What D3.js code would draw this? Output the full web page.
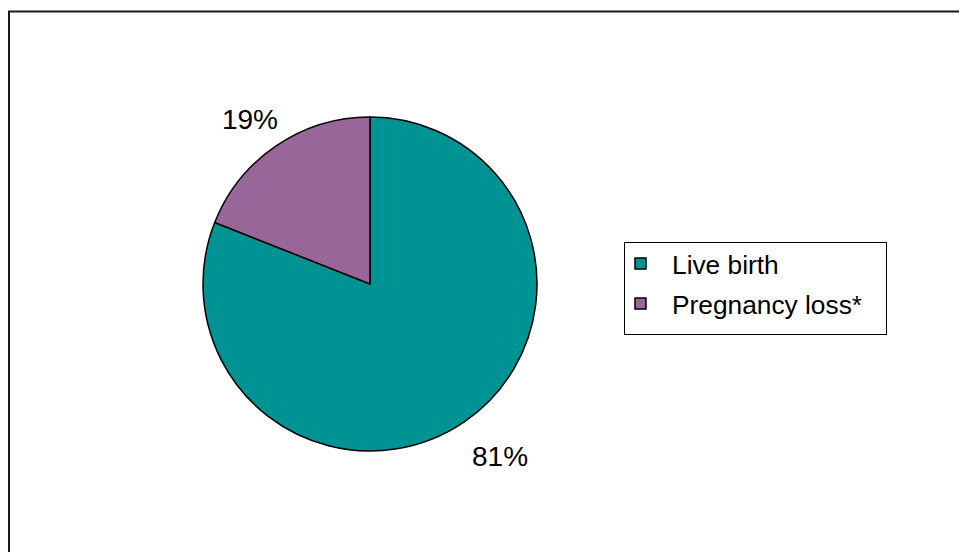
<!DOCTYPE html>
<html>
<head>
<meta charset="utf-8">
<script src="https://cdn.jsdelivr.net/npm/d3@7"></script>
<style>
  html, body { margin: 0; padding: 0; background: #fff; }
  svg { display: block; }
  text { font-family: "Liberation Sans", Arial, sans-serif; fill: #000; }
</style>
</head>
<body>
<script>
// ---- data ----
const categories = ["Live birth", "Pregnancy loss*"];
const values = [81, 19];
const valueLabels = ["81%", "19%"];
const colors = ["#009393", "#996699"];

// ---- layout ----
const W = 959, H = 552;
const cx = 370, cy = 284, radius = 167;

const svg = d3.select("body").append("svg")
  .attr("width", W).attr("height", H);

// outer frame (clipped by viewport at right/bottom)
svg.append("rect")
  .attr("x", 9).attr("y", 11.5)
  .attr("width", 1000).attr("height", 600)
  .attr("fill", "none")
  .attr("stroke", "#1a1a1a")
  .attr("stroke-width", 2);

const data = categories.map((c, i) => ({ name: c, value: values[i], label: valueLabels[i], color: colors[i] }));

const pie = d3.pie().value(d => d.value).sort(null);
const arcs = pie(data);
const arcGen = d3.arc().innerRadius(0).outerRadius(radius);

const g = svg.append("g").attr("transform", `translate(${cx},${cy})`);

g.selectAll("path.slice")
  .data(arcs)
  .enter().append("path")
  .attr("class", "slice")
  .attr("d", arcGen)
  .attr("fill", d => d.data.color)
  .attr("stroke", "#000")
  .attr("stroke-width", 1.5)
  .attr("stroke-linejoin", "round");

// labels outside the pie
const fontSize = 28;
const labelR = 194;
g.selectAll("text.pct")
  .data(arcs)
  .enter().append("text")
  .attr("class", "pct")
  .attr("font-size", fontSize)
  .attr("text-anchor", "middle")
  .attr("x", d => {
    const a = (d.startAngle + d.endAngle) / 2;
    return (labelR + 28.5) * Math.sin(a) + 5;
  })
  .attr("y", d => {
    const a = (d.startAngle + d.endAngle) / 2;
    return -(labelR + 9.5) * Math.cos(a) + 3.3 + 10;
  })
  .text(d => d.data.label);

// legend
const legX = 624, legY = 242, legW = 262, legH = 92;
const legend = svg.append("g");
legend.append("rect")
  .attr("x", legX + 0.5).attr("y", legY + 0.5)
  .attr("width", legW).attr("height", legH)
  .attr("fill", "#fff")
  .attr("stroke", "#000")
  .attr("stroke-width", 1);

const rowY = d3.scalePoint().domain(categories).range([264, 304]);

const items = legend.selectAll("g.item")
  .data(data)
  .enter().append("g")
  .attr("class", "item")
  .attr("transform", d => `translate(0,${rowY(d.name)})`);

items.append("rect")
  .attr("x", 635).attr("y", -6)
  .attr("width", 11).attr("height", 11)
  .attr("fill", d => d.color)
  .attr("stroke", "#000")
  .attr("stroke-width", 1.5);

items.append("text")
  .attr("x", 672).attr("y", 9.5)
  .attr("font-size", 26.3)
  .text(d => d.name);
</script>
</body>
</html>
